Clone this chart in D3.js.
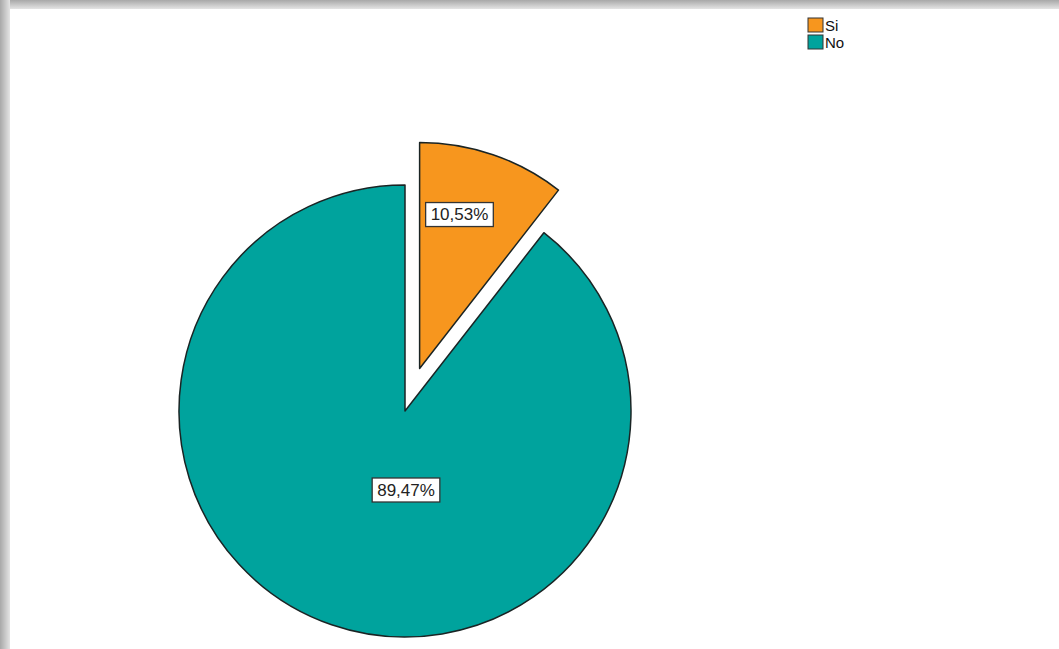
<!DOCTYPE html>
<html><head><meta charset="utf-8">
<script src="https://cdn.jsdelivr.net/npm/d3@7"></script>
<style>html,body{margin:0;padding:0;background:#fff;overflow:hidden}</style>
</head><body>
<svg id="c" width="1059" height="649"></svg>
<script>
const categories = ["Si", "No"];
const values = [10.53, 89.47];
const labels = ["10,53%", "89,47%"];
const colors = ["#F7961E", "#00A39D"];

const svg = d3.select("#c");
const defs = svg.append("defs");
const gt = defs.append("linearGradient").attr("id","gt").attr("x1",0).attr("y1",0).attr("x2",0).attr("y2",1);
gt.append("stop").attr("offset",0).attr("stop-color","#a8a8a8");
gt.append("stop").attr("offset",1).attr("stop-color","#e4e4e4");
const gl = defs.append("linearGradient").attr("id","gl").attr("x1",0).attr("y1",0).attr("x2",1).attr("y2",0);
gl.append("stop").attr("offset",0).attr("stop-color","#a8a8a8");
gl.append("stop").attr("offset",1).attr("stop-color","#e4e4e4");
svg.append("rect").attr("x",0).attr("y",0).attr("width",1059).attr("height",9).attr("fill","url(#gt)");
svg.append("rect").attr("x",0).attr("y",0).attr("width",10).attr("height",649).attr("fill","url(#gl)");

const cx = 405, cy = 411, R = 226, explode = 45;
const pie = d3.pie().sort(null).value(d => d)(values);
const arc = d3.arc().innerRadius(0).outerRadius(R);

const g = svg.append("g").attr("transform", `translate(${cx},${cy})`);
pie.forEach((p, i) => {
  const mid = (p.startAngle + p.endAngle) / 2;
  const off = i === 0 ? explode : 0;
  const dx = Math.sin(mid) * off, dy = -Math.cos(mid) * off;
  const sg = g.append("g").attr("transform", `translate(${dx},${dy})`);
  sg.append("path").attr("d", arc(p)).attr("fill", colors[i])
    .attr("stroke", "#1a2424").attr("stroke-width", 1.5).attr("stroke-linejoin","round");
});

// labels
const labelPos = [
  (p) => { const mid=(p.startAngle+p.endAngle)/2; const r=R*0.72;
           return [Math.sin(mid)*(r+explode) - 13, -Math.cos(mid)*(r+explode)]; },
  (p) => [1, 79]
];
pie.forEach((p, i) => {
  const [lx, ly] = labelPos[i](p);
  const lg = g.append("g").attr("transform", `translate(${lx},${ly})`);
  const t = lg.append("text").text(labels[i]).attr("text-anchor","middle")
    .attr("dominant-baseline","central").attr("font-family","Liberation Sans, Arial, sans-serif")
    .attr("font-size", 17).attr("fill","#222");
  const bb = t.node().getBBox();
  lg.insert("rect","text").attr("x", bb.x - 5).attr("y", -12).attr("width", bb.width + 10).attr("height", 24)
    .attr("fill","#fff").attr("stroke","#333").attr("stroke-width",1.3);
});

// legend
const lgd = svg.append("g").attr("transform","translate(808,18)");
categories.forEach((c, i) => {
  const row = lgd.append("g").attr("transform", `translate(0,${i*17})`);
  row.append("rect").attr("x",0).attr("y",0).attr("width",15).attr("height",14)
    .attr("fill", colors[i]).attr("stroke","#333").attr("stroke-width",1);
  row.append("text").attr("x",17).attr("y",12.5).text(c)
    .attr("font-family","Liberation Sans, Arial, sans-serif").attr("font-size",15).attr("fill","#111");
});
</script>
</body></html>
